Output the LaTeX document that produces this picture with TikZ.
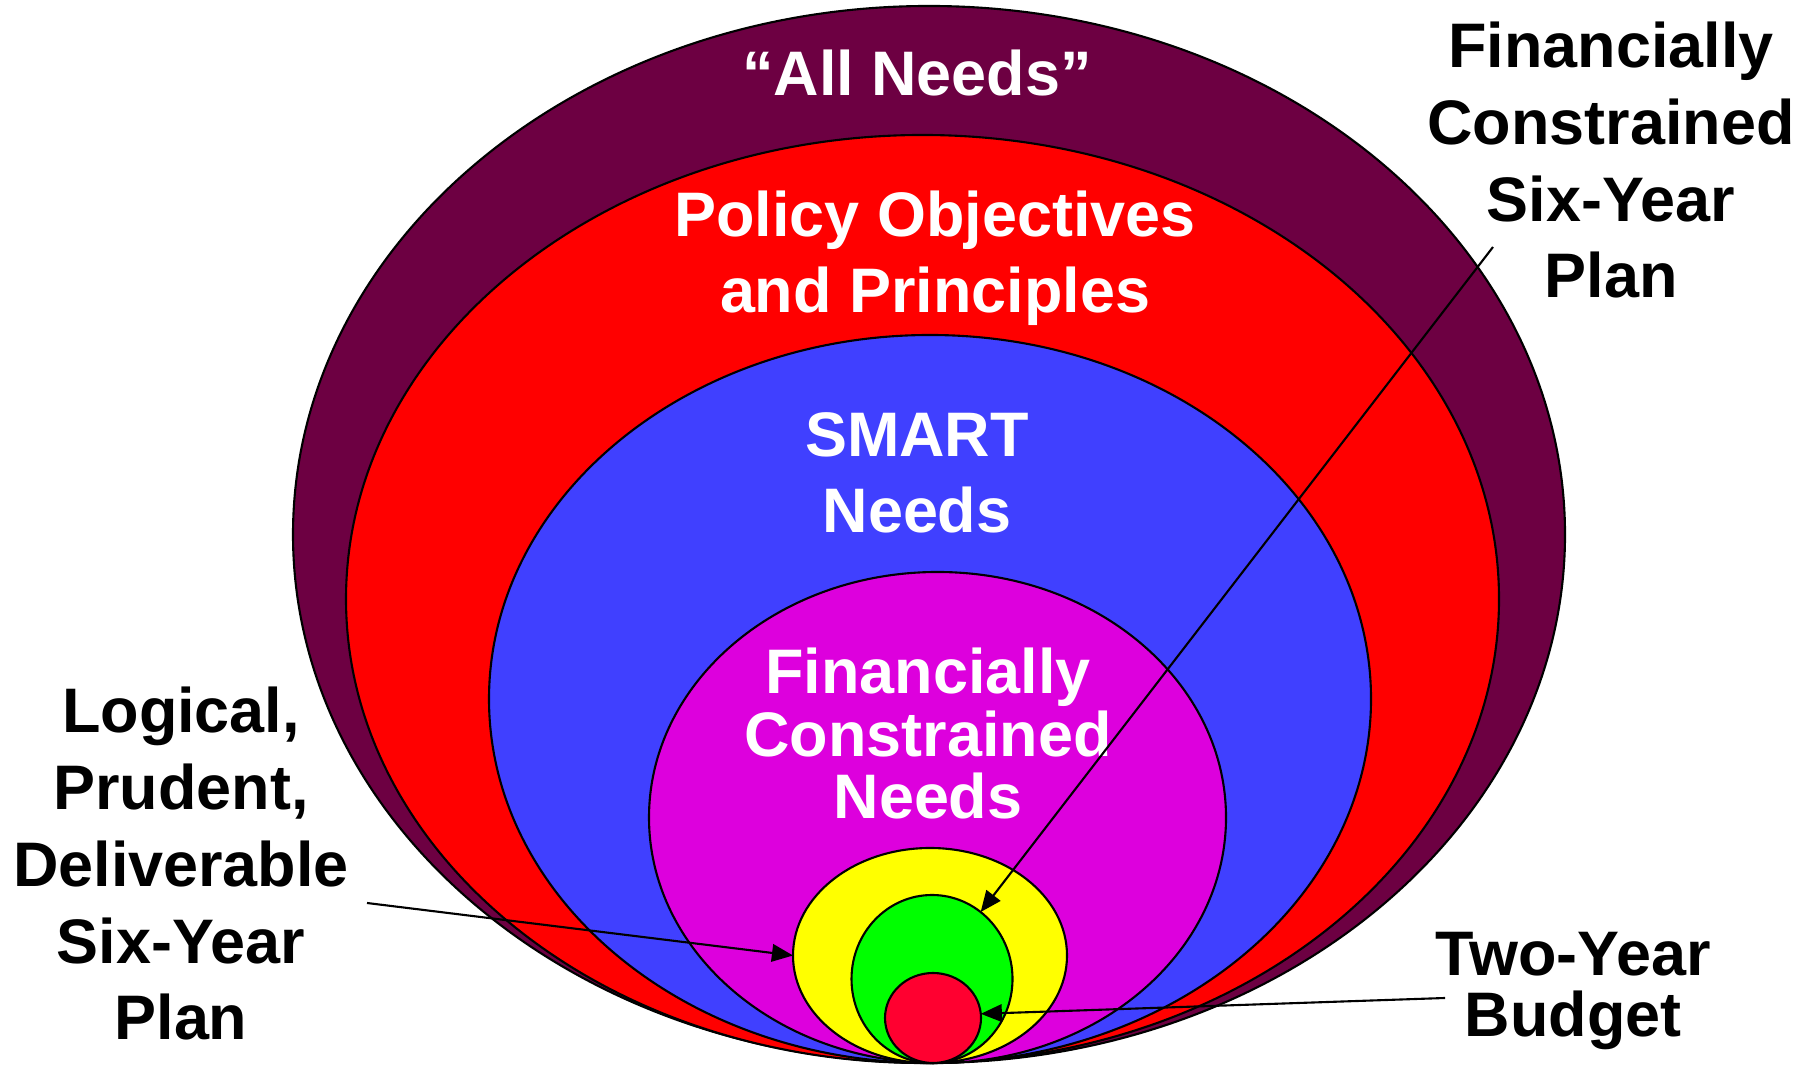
\documentclass[tikz,border=0pt]{standalone}
\usepackage{fontspec}
\setmainfont{Liberation Sans}
\usetikzlibrary{shapes.geometric, arrows.meta}

\definecolor{allpurple}{RGB}{109,0,66}
\definecolor{policyred}{RGB}{255,0,0}
\definecolor{smartblue}{RGB}{64,64,255}
\definecolor{fcmagenta}{RGB}{221,0,221}
\definecolor{planyellow}{RGB}{255,255,0}
\definecolor{plangreen}{RGB}{0,255,0}
\definecolor{budgetred}{RGB}{255,0,48}

\begin{document}
\begin{tikzpicture}
	\tikzset{
		ring/.style={ellipse, draw, line width=0.6pt, inner sep=0pt, outer sep=0pt},
		ring text/.style={white, align=center, anchor=base, font=\bfseries\fontsize{17.9}{21.9}\selectfont},
		side text/.style={black, align=center, anchor=base, font=\bfseries\fontsize{17.9}{21.9}\selectfont},
		pointer/.style={-{Triangle[length=6pt, width=5pt]}, line width=0.6pt}
	}
	\useasboundingbox (0,0) rectangle (18.14,10.66);

	% Nested rings, largest first
	\node (allneeds) at (9.29,5.315) [ring, fill=allpurple, minimum width=12.72cm, minimum height=10.57cm] {};
	\node (policy) at (9.225,4.67) [ring, fill=policyred, minimum width=11.53cm, minimum height=9.28cm] {};
	\node (smart) at (9.30,3.67) [ring, fill=smartblue, minimum width=8.82cm, minimum height=7.28cm] {};
	\node (fcneeds) at (9.375,2.485) [ring, fill=fcmagenta, minimum width=5.77cm, minimum height=4.91cm] {};
	\node (lpdplan) at (9.30,1.105) [ring, fill=planyellow, minimum width=2.74cm, minimum height=2.15cm] {};
	\node (fcplan) at (9.32,0.87) [ring, fill=plangreen, minimum width=1.61cm, minimum height=1.68cm] {};
	\node (twoyear) at (9.33,0.48) [ring, fill=budgetred, minimum width=0.96cm, minimum height=0.90cm] {};

	% Ring titles (placed by the baseline of their last line)
	\node (allneedstext) at (9.17,9.70) [ring text] {“All Needs”};
	\node (policytext) at (9.35,7.53) [ring text] {Policy Objectives\\and Principles};
	\node (smarttext) at (9.17,5.33) [ring text] {SMART\\Needs};
	\node (fcneedstext) at (9.28,2.47) [ring text, font=\bfseries\fontsize{17.9}{17.9}\selectfont] {Financially\\Constrained\\Needs};

	% Labels outside, with pointers
	\node (fclabel) at (16.11,7.68) [side text] {Financially\\Constrained\\Six-Year\\Plan};
	\node (lpdlabel) at (1.81,0.26) [side text] {Logical,\\Prudent,\\Deliverable\\Six-Year\\Plan};
	\node (twoyearlabel) at (15.73,0.29) [side text, font=\bfseries\fontsize{17.9}{17.6}\selectfont] {Two-Year\\Budget};

	\coordinate (fcstart) at (14.93,8.19);
	\coordinate (lpdstart) at (3.67,1.63);
	\coordinate (twoyearstart) at (14.45,0.68);
	\draw[pointer] (fcstart) -- (fcplan.54);
	\draw[pointer] (lpdstart) -- (lpdplan.west);
	\draw[pointer] (twoyearstart) -- (twoyear.5);
\end{tikzpicture}
\end{document}
